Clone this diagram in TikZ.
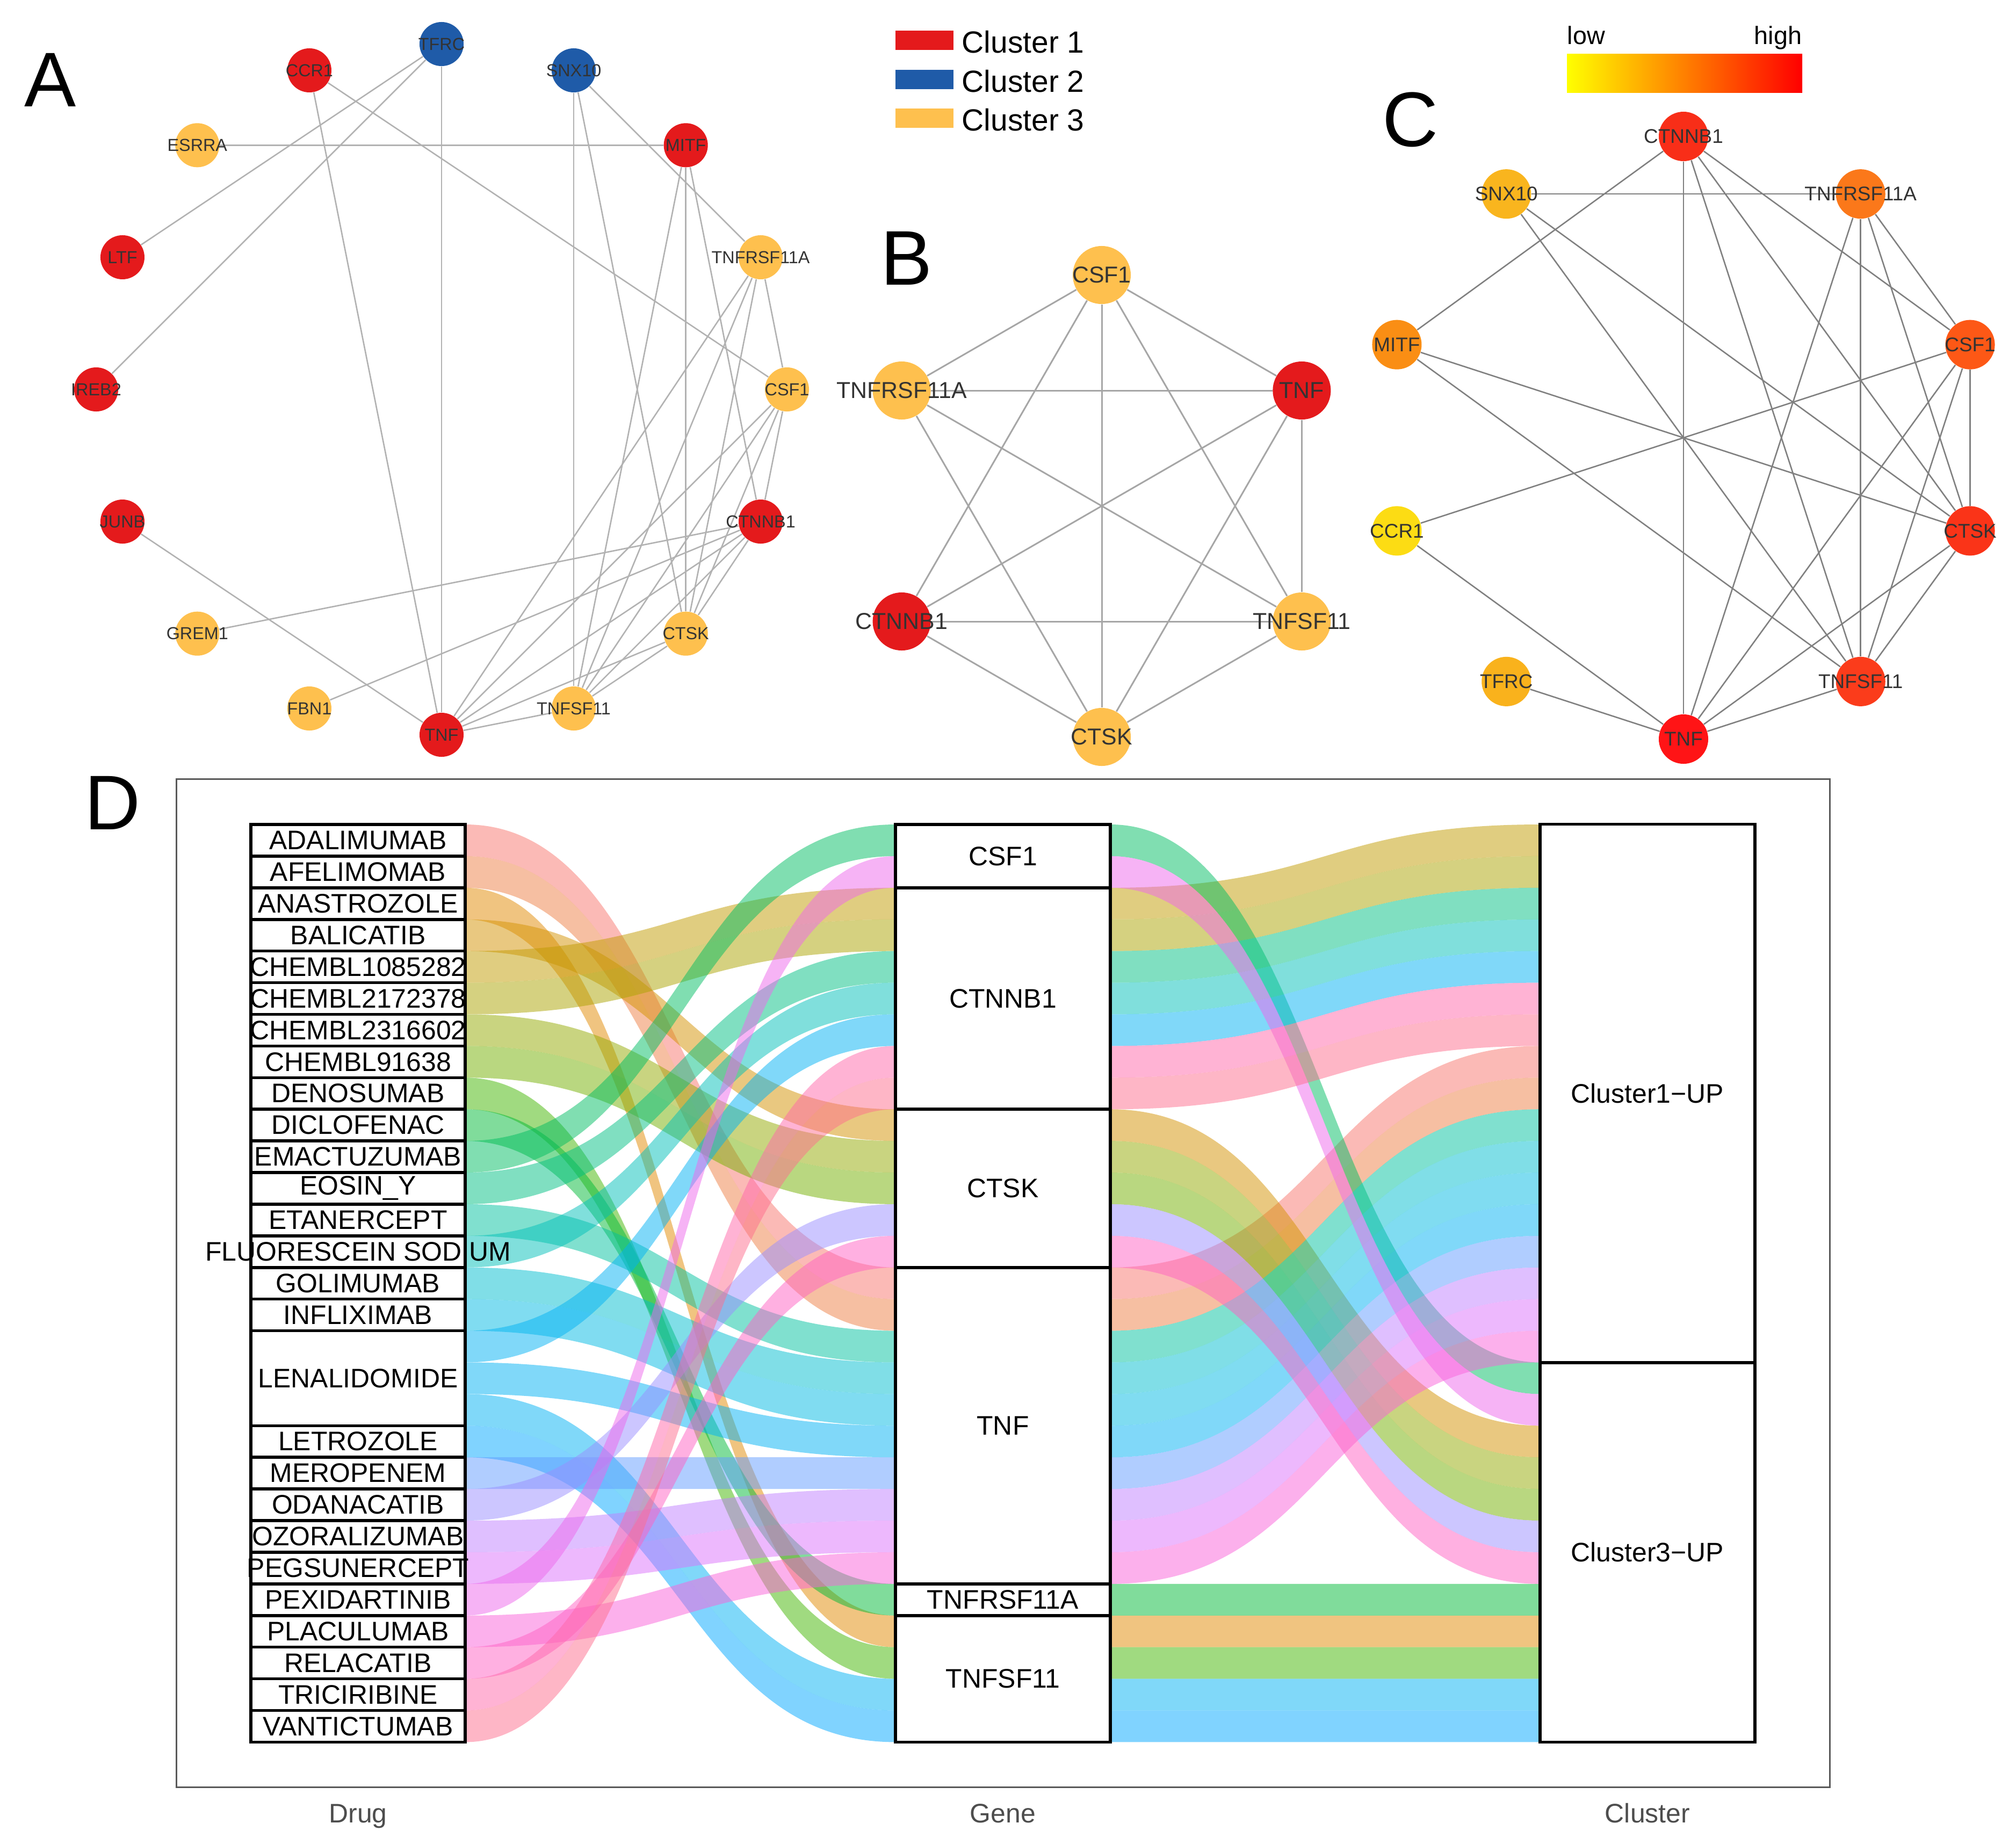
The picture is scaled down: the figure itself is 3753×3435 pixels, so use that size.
\documentclass[tikz,border=0pt]{standalone}
\usepackage{fontspec}
\setmainfont{Liberation Sans}
\usetikzlibrary{positioning}

\pgfdeclarelayer{edges}
\pgfsetlayers{edges,main}

% cluster colours of panels A and B
\definecolor{cluone}{HTML}{E41A1C}
\definecolor{clutwo}{HTML}{1F5BA8}
\definecolor{cluthree}{HTML}{FEC04E}
\definecolor{txtgrey}{HTML}{333333}
\definecolor{axisgrey}{HTML}{4D4D4D}
% degree colours of panel C
\definecolor{heatCTNNB1}{HTML}{F82E18}
\definecolor{heatTNFRSF11A}{HTML}{FB781A}
\definecolor{heatCSF1}{HTML}{FD5816}
\definecolor{heatCTSK}{HTML}{FA3418}
\definecolor{heatTNFSF11}{HTML}{FB3C1B}
\definecolor{heatTNF}{HTML}{FF1416}
\definecolor{heatTFRC}{HTML}{F9B21C}
\definecolor{heatCCR1}{HTML}{FCDC14}
\definecolor{heatMITF}{HTML}{FA8E14}
\definecolor{heatSNX10}{HTML}{F9B51E}

% drug colours: hcl hues l=65 c=100, as ggplot does
\foreach \kk in {0,...,26}{%
  \pgfmathsetmacro\hu{15+\kk*360/27}%
  \pgfmathsetmacro\uu{cos(\hu)*100/845+0.197832}%
  \pgfmathsetmacro\vv{sin(\hu)*100/845+0.468340}%
  \pgfmathsetmacro\XX{9*0.340535*\uu/(4*\vv)}%
  \pgfmathsetmacro\ZZ{0.340535*(12-3*\uu-20*\vv)/(4*\vv)}%
  \pgfmathsetmacro\linR{3.240479*\XX-0.523454-0.498535*\ZZ}%
  \pgfmathsetmacro\linG{-0.969256*\XX+0.638841+0.041556*\ZZ}%
  \pgfmathsetmacro\linB{0.055648*\XX-0.069484+1.057311*\ZZ}%
  \pgfmathsetmacro\colR{max(0,min(1,1.055*exp(ln(max(\linR,0.001))/2.4)-0.055))}%
  \pgfmathsetmacro\colG{max(0,min(1,1.055*exp(ln(max(\linG,0.001))/2.4)-0.055))}%
  \pgfmathsetmacro\colB{max(0,min(1,1.055*exp(ln(max(\linB,0.001))/2.4)-0.055))}%
  \edef\tmpdef{\noexpand\xglobal\noexpand\definecolor{drugc\kk}{rgb}{\colR,\colG,\colB}}\tmpdef
}

\tikzset{
  panellab/.style={anchor=base west,inner sep=0pt,font=\fontsize{41}{45}\selectfont},
  nodeA/.style={circle,inner sep=0pt,minimum size=0.82cm},
  nodeB/.style={circle,inner sep=0pt,minimum size=1.08cm},
  nodeC/.style={circle,inner sep=0pt,minimum size=0.92cm},
  labA/.style={text=txtgrey,font=\fontsize{9.2}{11}\selectfont},
  labB/.style={text=txtgrey,font=\fontsize{12.2}{14}\selectfont},
  labC/.style={text=txtgrey,font=\fontsize{10.5}{12}\selectfont},
  edgeA/.style={draw=black!30,line width=0.026cm},
  edgeB/.style={draw=black!35,line width=0.03cm},
  edgeC/.style={draw=black!50,line width=0.026cm},
  legbox/.style={minimum width=1.08cm,minimum height=0.36cm,inner sep=0pt},
  legtxt/.style={anchor=base west,inner sep=0pt,font=\fontsize{16.2}{19}\selectfont},
  scaletxt/.style={inner sep=0pt,font=\fontsize{13.3}{16}\selectfont},
  stratbox/.style={draw,line width=0.055cm,minimum width=3.99cm,inner sep=0pt},
  stratlab/.style={inner sep=0pt,font=\fontsize{14.2}{17}\selectfont},
  flowband/.style={fill opacity=0.5},
  axislab/.style={anchor=base,text=axisgrey,font=\fontsize{14.2}{17}\selectfont},
  frameline/.style={draw=black!65,line width=0.03cm}
}

\begin{document}
\begin{tikzpicture}[x=0.01cm,y=-0.01cm]
\useasboundingbox (0,0) rectangle (3753,3435);

% panel letters
\node[panellab] (letA) at (45,198) {A};
\node[panellab] (letB) at (1639,530) {B};
\node[panellab] (letC) at (2573,272) {C};
\node[panellab] (letD) at (157,1544) {D};

% legend of the clusters
\foreach \i/\cl/\y in {1/cluone/75,2/clutwo/148,3/cluthree/220}{
  \node[legbox,fill=\cl] (leg\i) at (1721,\y) {};
  \node[legtxt] (legtxt\i) at (1790,\y+23) {Cluster \i};
}

% colour scale of panel C
\shade[left color=yellow,right color=red] (2917,100) rectangle (3355,172);
\node[scaletxt,anchor=base west] (low) at (2917,82) {low};
\node[scaletxt,anchor=base east] (high) at (3355,82) {high};

% A: whole network
\begin{scope}[shift={(822,725)}]
\foreach \nm/\a/\cl in {TFRC/-90/clutwo, SNX10/-67.5/clutwo, MITF/-45/cluone,
    TNFRSF11A/-22.5/cluthree, CSF1/0/cluthree, CTNNB1/22.5/cluone, CTSK/45/cluthree,
    TNFSF11/67.5/cluthree, TNF/90/cluone, FBN1/112.5/cluthree, GREM1/135/cluthree,
    JUNB/157.5/cluone, IREB2/180/cluone, LTF/202.5/cluone, ESRRA/225/cluthree, CCR1/247.5/cluone}
  \node[nodeA,fill=\cl,label={[labA]center:\nm}] (a\nm) at (\a:643) {};
\begin{pgfonlayer}{edges}
\foreach \u/\v in {TFRC/TNF, TFRC/LTF, TFRC/IREB2, CCR1/TNF, CCR1/CSF1, ESRRA/MITF,
    SNX10/TNFSF11, SNX10/CTSK, SNX10/TNFRSF11A, MITF/TNFSF11, MITF/CTSK, MITF/CTNNB1,
    TNFRSF11A/TNF, TNFRSF11A/TNFSF11, TNFRSF11A/CTSK, TNFRSF11A/CSF1, CSF1/CTSK,
    CSF1/TNFSF11, CSF1/TNF, CTNNB1/TNF, CTNNB1/TNFSF11, CTNNB1/CTSK, CTNNB1/CSF1,
    CTSK/TNFSF11, CTSK/TNF, TNFSF11/TNF, JUNB/TNF, GREM1/CTNNB1, FBN1/CTNNB1}
  \draw[edgeA] (a\u) -- (a\v);
\end{pgfonlayer}
\end{scope}

% B: hub genes
\begin{scope}[shift={(2051,942)}]
\foreach \nm/\a/\cl in {CSF1/-90/cluthree, TNF/-30/cluone, TNFSF11/30/cluthree,
    CTSK/90/cluthree, CTNNB1/150/cluone, TNFRSF11A/210/cluthree}
  \node[nodeB,fill=\cl,label={[labB]center:\nm}] (b\nm) at (\a:430) {};
\begin{pgfonlayer}{edges}
\foreach \u/\v in {CSF1/TNF, CSF1/TNFSF11, CSF1/CTSK, CSF1/CTNNB1, CSF1/TNFRSF11A,
    TNF/TNFSF11, TNF/CTSK, TNF/CTNNB1, TNF/TNFRSF11A, TNFSF11/CTSK, TNFSF11/CTNNB1,
    TNFSF11/TNFRSF11A, CTSK/CTNNB1, CTSK/TNFRSF11A}
  \draw[edgeB] (b\u) -- (b\v);
\end{pgfonlayer}
\end{scope}

% C: top ten by degree
\begin{scope}[shift={(3134,815)}]
\foreach \nm/\a in {CTNNB1/-90, TNFRSF11A/-54, CSF1/-18, CTSK/18, TNFSF11/54,
    TNF/90, TFRC/126, CCR1/162, MITF/198, SNX10/234}
  \node[nodeC,fill=heat\nm,label={[labC]center:\nm}] (c\nm) at (\a:561) {};
\begin{pgfonlayer}{edges}
\foreach \u/\v in {SNX10/TNFRSF11A, CTNNB1/MITF, CTNNB1/TNF, CTNNB1/TNFSF11, CTNNB1/CTSK,
    CTNNB1/CSF1, SNX10/CTSK, SNX10/TNFSF11, MITF/CTSK, MITF/TNFSF11, CCR1/CSF1, CCR1/TNF,
    TFRC/TNF, TNFRSF11A/TNFSF11, TNFRSF11A/TNF, TNFRSF11A/CTSK, TNFRSF11A/CSF1, CSF1/CTSK,
    CSF1/TNFSF11, CSF1/TNF, CTSK/TNFSF11, CTSK/TNF, TNFSF11/TNF}
  \draw[edgeC] (c\u) -- (c\v);
\end{pgfonlayer}
\end{scope}

% D: drug - gene - cluster
\draw[frameline] (328,1450) rectangle (3406,3327);
% one band per drug row: row / place at gene / place at cluster / colour
\foreach \rw/\gp/\cp/\kk in {0/14/7/0, 1/15/8/1, 2/25/25/2, 3/9/19/3, 4/2/0/4, 5/3/1/5,
    6/10/20/6, 7/11/21/7, 8/26/26/8, 9/24/24/9, 10/0/17/10, 11/4/2/11, 12/16/9/12,
    13/5/3/13, 14/17/10/14, 15/18/11/15, 16/6/4/16, 17/19/12/16, 18/27/27/16,
    19/28/28/17, 20/20/13/18, 21/12/22/19, 22/21/14/20, 23/22/15/21, 24/1/18/22,
    25/23/16/23, 26/13/23/24, 27/7/5/25, 28/8/6/26}{
  \pgfmathsetmacro\yd{1535+\rw*58.91}
  \pgfmathsetmacro\yg{1535+\gp*58.91}
  \pgfmathsetmacro\yc{1535+\cp*58.91}
  \fill[flowband,fill=drugc\kk] (866,\yd) .. controls (1266,\yd) and (1266,\yg) .. (1667,\yg)
    -- (1667,\yg+58.91) .. controls (1266,\yg+58.91) and (1266,\yd+58.91) .. (866,\yd+58.91) -- cycle;
  \fill[flowband,fill=drugc\kk] (2067,\yg) .. controls (2467,\yg) and (2467,\yc) .. (2867,\yc)
    -- (2867,\yc+58.91) .. controls (2467,\yc+58.91) and (2467,\yg+58.91) .. (2067,\yg+58.91) -- cycle;
}

% strata
\foreach \s/\h/\nm in {0/1/ADALIMUMAB, 1/1/AFELIMOMAB, 2/1/ANASTROZOLE, 3/1/BALICATIB,
    4/1/CHEMBL1085282, 5/1/CHEMBL2172378, 6/1/CHEMBL2316602, 7/1/CHEMBL91638,
    8/1/DENOSUMAB, 9/1/DICLOFENAC, 10/1/EMACTUZUMAB, 11/1/EOSIN\_Y, 12/1/ETANERCEPT,
    13/1/FLUORESCEIN SODIUM, 14/1/GOLIMUMAB, 15/1/INFLIXIMAB, 16/3/LENALIDOMIDE,
    19/1/LETROZOLE, 20/1/MEROPENEM, 21/1/ODANACATIB, 22/1/OZORALIZUMAB,
    23/1/PEGSUNERCEPT, 24/1/PEXIDARTINIB, 25/1/PLACULUMAB, 26/1/RELACATIB,
    27/1/TRICIRIBINE, 28/1/VANTICTUMAB}
  \node[stratbox,minimum height=\h*0.5891cm,label={[stratlab]center:\nm}] (drug\s) at (666.5,{1535+(\s+\h/2)*58.91}) {};
\foreach \s/\h/\nm in {0/2/CSF1, 2/7/CTNNB1, 9/5/CTSK, 14/10/TNF, 24/1/TNFRSF11A, 25/4/TNFSF11}
  \node[stratbox,minimum width=4cm,minimum height=\h*0.5891cm,label={[stratlab]center:\nm}] (gene\s) at (1867,{1535+(\s+\h/2)*58.91}) {};
\foreach \s/\h/\nm in {0/17/Cluster1−UP, 17/12/Cluster3−UP}
  \node[stratbox,minimum width=4cm,minimum height=\h*0.5891cm,label={[stratlab]center:\nm}] (clu\s) at (3067,{1535+(\s+\h/2)*58.91}) {};

\node[axislab] (axDrug) at (666.5,3393) {Drug};
\node[axislab] (axGene) at (1867,3393) {Gene};
\node[axislab] (axCluster) at (3067,3393) {Cluster};
\end{tikzpicture}
\end{document}
